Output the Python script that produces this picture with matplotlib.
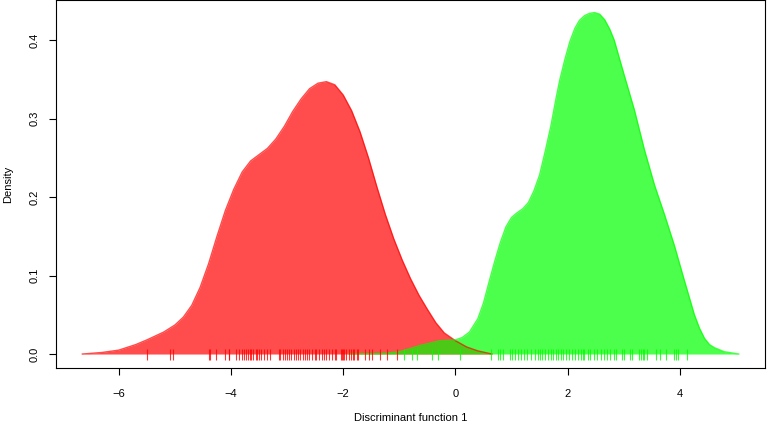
import numpy as np
import matplotlib
matplotlib.use("Agg")
import matplotlib.pyplot as plt

plt.rcParams['font.family'] = ['Liberation Sans', 'DejaVu Sans']

# density curve of group 1 (red)
red_x = [-6.65, -6.3, -6.0, -5.7, -5.5, -5.2, -5.0, -4.85, -4.7, -4.55, -4.4,
         -4.25, -4.1, -3.95, -3.8, -3.65, -3.5, -3.35, -3.2, -3.05, -2.9,
         -2.75, -2.6, -2.45, -2.3, -2.15, -2.0, -1.85, -1.7, -1.55, -1.4,
         -1.25, -1.1, -0.95, -0.8, -0.65, -0.5, -0.35, -0.2, 0.0, 0.2, 0.4, 0.65]
red_y = [0.0, 0.002, 0.005, 0.012, 0.018, 0.028, 0.037, 0.047, 0.062, 0.085, 0.115,
         0.150, 0.183, 0.210, 0.232, 0.246, 0.254, 0.262, 0.274, 0.290, 0.309,
         0.325, 0.338, 0.345, 0.347, 0.343, 0.330, 0.310, 0.283, 0.250, 0.213,
         0.178, 0.147, 0.120, 0.096, 0.075, 0.057, 0.040, 0.027, 0.017, 0.009, 0.004, 0.0]

# density curve of group 2 (green)
green_x = [-1.9, -1.5, -1.25, -0.99, -0.63, -0.28, 0.0, 0.12, 0.25, 0.4, 0.5, 0.6,
           0.7, 0.8, 0.9, 1.0, 1.1, 1.2, 1.3, 1.4, 1.5, 1.6, 1.7, 1.8, 1.86, 1.95,
           2.04, 2.13, 2.21, 2.3, 2.39, 2.48, 2.57, 2.66, 2.75, 2.83, 3.01, 3.19,
           3.37, 3.55, 3.73, 3.9, 4.08, 4.26, 4.35, 4.44, 4.53, 4.62, 4.79, 5.05]
green_y = [0.0, 0.0005, 0.001, 0.003, 0.011, 0.017, 0.018, 0.021, 0.028, 0.045, 0.065, 0.092,
           0.118, 0.142, 0.162, 0.174, 0.180, 0.185, 0.193, 0.208, 0.228, 0.258, 0.290, 0.328, 0.349, 0.375,
           0.398, 0.415, 0.425, 0.431, 0.434, 0.435, 0.433, 0.426, 0.414, 0.400, 0.355, 0.311,
           0.260, 0.215, 0.177, 0.139, 0.094, 0.050, 0.033, 0.020, 0.012, 0.008, 0.003, 0.0]

# observed scores (rug)
red_obs = [-5.50, -5.08, -5.03, -4.39, -4.37, -4.26, -4.11, -4.04, -4.03, -3.91, -3.86,
           -3.81, -3.77, -3.74, -3.70, -3.67, -3.64, -3.60, -3.56, -3.53, -3.50,
           -3.46, -3.42, -3.35, -3.31, -3.15, -3.12, -3.08, -3.04, -3.00, -2.97,
           -2.93, -2.88, -2.85, -2.81, -2.77, -2.72, -2.68, -2.65, -2.61, -2.55,
           -2.51, -2.48, -2.43, -2.38, -2.35, -2.30, -2.25, -2.20, -2.15, -2.12,
           -2.04, -2.03, -2.00, -1.99, -1.95, -1.90, -1.86, -1.82, -1.80, -1.76,
           -1.73, -1.61, -1.54, -1.49, -1.34, -1.22, -1.04]
green_obs = [-0.92, -0.78, -0.69, -0.42, -0.31, 0.09, 0.63, 0.76, 0.79, 0.85, 0.98,
             1.01, 1.07, 1.12, 1.17, 1.23, 1.27, 1.35, 1.41, 1.47, 1.51, 1.55, 1.60,
             1.65, 1.70, 1.74, 1.79, 1.83, 1.89, 1.92, 1.98, 2.03, 2.08, 2.14, 2.19,
             2.23, 2.27, 2.30, 2.36, 2.40, 2.47, 2.53, 2.59, 2.64, 2.70, 2.75, 2.83,
             2.87, 2.97, 3.01, 3.11, 3.14, 3.27, 3.30, 3.34, 3.37, 3.42, 3.58, 3.65,
             3.75, 3.89, 3.93, 3.97, 4.12]

fig = plt.figure(figsize=(7.67, 4.23), dpi=100)
ax = fig.add_axes([0.073, 0.130, 0.9245, 0.870])

ax.fill_between(red_x, red_y, color=(1, 0, 0), alpha=0.7, lw=0)
ax.plot(red_x, red_y, color=(1, 0, 0), alpha=0.7, lw=1)
ax.fill_between(green_x, green_y, color=(0, 1, 0), alpha=0.7, lw=0)
ax.plot(green_x, green_y, color=(0, 1, 0), alpha=0.7, lw=1)

ax.vlines(red_obs, -0.0076, 0.0064, color=(1, 0, 0), alpha=0.8, lw=0.8)
ax.vlines(green_obs, -0.0076, 0.0064, color=(0, 1, 0), alpha=0.8, lw=0.8)

ax.set_xlim(-7.12, 5.52)
ax.set_ylim(-0.0178, 0.451)
ax.set_xticks([-6, -4, -2, 0, 2, 4])
ax.set_yticks([0.0, 0.1, 0.2, 0.3, 0.4])
ax.set_yticklabels(['0.0', '0.1', '0.2', '0.3', '0.4'], rotation=90, va='center')
ax.tick_params(labelsize=8, length=5, width=0.8, pad=10)
ax.tick_params(axis='y', pad=7)
for s in ax.spines.values():
    s.set_linewidth(0.8)

ax.set_xlabel('Discriminant function 1', fontsize=8, labelpad=10)
ax.set_ylabel('Density', fontsize=8, labelpad=12)

fig.savefig('out.png', dpi=100)
